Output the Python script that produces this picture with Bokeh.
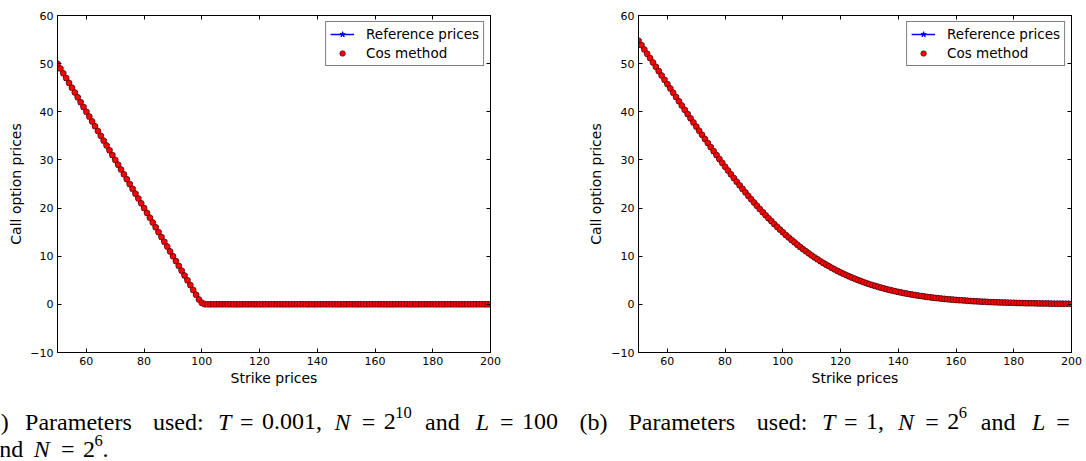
from bokeh.plotting import figure
from bokeh.models import Range1d, FixedTicker, LinearAxis, Legend, LegendItem
from bokeh.layouts import column, row
from bokeh.embed import file_html
from bokeh.resources import INLINE
from bokeh.core.properties import value

# ---------------- data ----------------
strikes = [
    50, 51, 52, 53, 54, 55, 56, 57, 58, 59, 60, 61, 62, 63, 64, 65, 66, 67, 68, 69,
    70, 71, 72, 73, 74, 75, 76, 77, 78, 79, 80, 81, 82, 83, 84, 85, 86, 87, 88, 89,
    90, 91, 92, 93, 94, 95, 96, 97, 98, 99, 100, 101, 102, 103, 104, 105, 106, 107, 108, 109,
    110, 111, 112, 113, 114, 115, 116, 117, 118, 119, 120, 121, 122, 123, 124, 125, 126, 127, 128, 129,
    130, 131, 132, 133, 134, 135, 136, 137, 138, 139, 140, 141, 142, 143, 144, 145, 146, 147, 148, 149,
    150, 151, 152, 153, 154, 155, 156, 157, 158, 159, 160, 161, 162, 163, 164, 165, 166, 167, 168, 169,
    170, 171, 172, 173, 174, 175, 176, 177, 178, 179, 180, 181, 182, 183, 184, 185, 186, 187, 188, 189,
    190, 191, 192, 193, 194, 195, 196, 197, 198, 199, 200,
]

# panel (a): T = 0.001
ref_prices_a = [
    50, 49, 48, 47, 46, 45, 44, 43, 42, 41, 40, 39, 38, 37, 36, 35, 34, 33, 32, 31,
    30, 29, 28, 27, 26, 25, 24, 23, 22, 21, 20, 19, 18, 17, 16, 15, 14, 13, 12, 11,
    10, 9, 8, 7, 6, 5, 4, 3, 2, 1.01, 0.32, 0.04, 0, 0, 0, 0, 0, 0, 0, 0,
    0, 0, 0, 0, 0, 0, 0, 0, 0, 0, 0, 0, 0, 0, 0, 0, 0, 0, 0, 0,
    0, 0, 0, 0, 0, 0, 0, 0, 0, 0, 0, 0, 0, 0, 0, 0, 0, 0, 0, 0,
    0, 0, 0, 0, 0, 0, 0, 0, 0, 0, 0, 0, 0, 0, 0, 0, 0, 0, 0, 0,
    0, 0, 0, 0, 0, 0, 0, 0, 0, 0, 0, 0, 0, 0, 0, 0, 0, 0, 0, 0,
    0, 0, 0, 0, 0, 0, 0, 0, 0, 0, 0,
]
cos_prices_a = [
    50, 49, 48, 47, 46, 45, 44, 43, 42, 41, 40, 39, 38, 37, 36, 35, 34, 33, 32, 31,
    30, 29, 28, 27, 26, 25, 24, 23, 22, 21, 20, 19, 18, 17, 16, 15, 14, 13, 12, 11,
    10, 9, 8, 7, 6, 5, 4, 3, 2, 1.01, 0.32, 0.04, 0, 0, 0, 0, 0, 0, 0, 0,
    0, 0, 0, 0, 0, 0, 0, 0, 0, 0, 0, 0, 0, 0, 0, 0, 0, 0, 0, 0,
    0, 0, 0, 0, 0, 0, 0, 0, 0, 0, 0, 0, 0, 0, 0, 0, 0, 0, 0, 0,
    0, 0, 0, 0, 0, 0, 0, 0, 0, 0, 0, 0, 0, 0, 0, 0, 0, 0, 0, 0,
    0, 0, 0, 0, 0, 0, 0, 0, 0, 0, 0, 0, 0, 0, 0, 0, 0, 0, 0, 0,
    0, 0, 0, 0, 0, 0, 0, 0, 0, 0, 0,
]

# panel (b): T = 1
ref_prices_b = [
    54.76, 53.86, 52.96, 52.05, 51.15, 50.25, 49.35, 48.45, 47.55, 46.65,
    45.75, 44.86, 43.97, 43.08, 42.19, 41.30, 40.42, 39.55, 38.67, 37.80,
    36.92, 36.07, 35.22, 34.37, 33.52, 32.67, 31.83, 31.02, 30.20, 29.39,
    28.59, 27.80, 27.02, 26.25, 25.49, 24.74, 24.00, 23.28, 22.56, 21.86,
    21.16, 20.48, 19.82, 19.16, 18.52, 17.90, 17.29, 16.69, 16.11, 15.53,
    14.98, 14.43, 13.91, 13.39, 12.89, 12.40, 11.92, 11.46, 11.02, 10.58,
    10.16, 9.75, 9.36, 8.97, 8.60, 8.25, 7.91, 7.57, 7.24, 6.94,
    6.64, 6.35, 6.07, 5.81, 5.55, 5.30, 5.06, 4.83, 4.61, 4.40,
    4.20, 4.00, 3.82, 3.64, 3.46, 3.30, 3.14, 2.99, 2.85, 2.71,
    2.58, 2.45, 2.33, 2.22, 2.11, 2.01, 1.91, 1.81, 1.72, 1.63,
    1.55, 1.47, 1.39, 1.32, 1.25, 1.19, 1.13, 1.07, 1.02, 0.97,
    0.92, 0.87, 0.83, 0.78, 0.74, 0.70, 0.66, 0.63, 0.59, 0.56,
    0.53, 0.50, 0.47, 0.45, 0.42, 0.40, 0.38, 0.36, 0.34, 0.32,
    0.31, 0.29, 0.28, 0.26, 0.24, 0.23, 0.22, 0.21, 0.20, 0.19,
    0.18, 0.17, 0.16, 0.15, 0.14, 0.13, 0.12, 0.12, 0.11, 0.11,
    0.10,
]
cos_prices_b = [
    54.76, 53.86, 52.96, 52.05, 51.15, 50.25, 49.35, 48.45, 47.55, 46.65,
    45.75, 44.86, 43.97, 43.08, 42.19, 41.30, 40.42, 39.55, 38.67, 37.80,
    36.92, 36.07, 35.22, 34.37, 33.52, 32.67, 31.83, 31.02, 30.20, 29.39,
    28.59, 27.80, 27.02, 26.25, 25.49, 24.74, 24.00, 23.28, 22.56, 21.86,
    21.16, 20.48, 19.82, 19.16, 18.52, 17.90, 17.29, 16.69, 16.11, 15.53,
    14.98, 14.43, 13.91, 13.39, 12.89, 12.40, 11.92, 11.46, 11.02, 10.58,
    10.16, 9.75, 9.36, 8.97, 8.60, 8.25, 7.91, 7.57, 7.24, 6.94,
    6.64, 6.35, 6.07, 5.81, 5.55, 5.30, 5.06, 4.83, 4.61, 4.40,
    4.20, 4.00, 3.82, 3.64, 3.46, 3.30, 3.14, 2.99, 2.85, 2.71,
    2.58, 2.45, 2.33, 2.22, 2.11, 2.01, 1.91, 1.81, 1.72, 1.63,
    1.55, 1.47, 1.39, 1.32, 1.25, 1.19, 1.13, 1.07, 1.02, 0.97,
    0.92, 0.87, 0.83, 0.78, 0.74, 0.70, 0.66, 0.63, 0.59, 0.56,
    0.53, 0.50, 0.47, 0.45, 0.42, 0.40, 0.38, 0.36, 0.34, 0.32,
    0.31, 0.29, 0.28, 0.26, 0.24, 0.23, 0.22, 0.21, 0.20, 0.19,
    0.18, 0.17, 0.16, 0.15, 0.14, 0.13, 0.12, 0.12, 0.11, 0.11,
    0.10,
]

x_ticks = [60, 80, 100, 120, 140, 160, 180, 200]
y_ticks = [-10, 0, 10, 20, 30, 40, 50, 60]
x_label = "Strike prices"
y_label = "Call option prices"
legend_labels = ["Reference prices", "Cos method"]

# caption pieces: (text, page-x, style, kind)
caption_a1 = [
    ("(a)", -18.4, "normal", "t"), ("Parameters", 24.6, "normal", "t"),
    ("used:", 152.5, "normal", "t"), ("T", 217.4, "italic", "t"),
    ("=", 246.2, "normal", "eq"), ("0.001,", 261.5, "normal", "t"),
    ("N", 334.0, "italic", "t"), ("=", 367.9, "normal", "eq"),
    ("2", 383.2, "normal", "t"), ("10", 394.7, "normal", "sup"),
    ("and", 424.5, "normal", "t"), ("L", 475.2, "italic", "t"),
    ("=", 506.3, "normal", "eq"), ("100", 521.6, "normal", "t"),
]
caption_a2 = [
    ("and", -12.0, "normal", "t"), ("N", 33.3, "italic", "t"),
    ("=", 67.2, "normal", "eq"), ("2", 82.5, "normal", "t"),
    ("6", 94.0, "normal", "sup"), (".", 102.1, "normal", "t"),
]
caption_b1 = [
    ("(b)", 579.0, "normal", "t"), ("Parameters", 628.0, "normal", "t"),
    ("used:", 756.3, "normal", "t"), ("T", 821.5, "italic", "t"),
    ("=", 850.3, "normal", "eq"), ("1,", 865.6, "normal", "t"),
    ("N", 897.5, "italic", "t"), ("=", 931.4, "normal", "eq"),
    ("2", 946.7, "normal", "t"), ("6", 958.2, "normal", "sup"),
    ("and", 980.3, "normal", "t"), ("L", 1031.4, "italic", "t"),
    ("=", 1062.5, "normal", "eq"),
]

TICK_FONT = "DejaVu Sans"


def style_axis(ax, ticks, show_labels=True, standoff=4, overrides=None):
    ax.ticker = FixedTicker(ticks=ticks)
    ax.minor_tick_line_color = None
    ax.major_tick_in = 4
    ax.major_tick_out = 0
    ax.major_tick_line_color = "black"
    ax.major_tick_line_width = 1
    ax.axis_line_color = "black"
    ax.axis_line_width = 1
    if show_labels:
        ax.major_label_text_font = TICK_FONT
        ax.major_label_text_font_size = "11px"
        ax.major_label_text_color = "black"
        ax.major_label_standoff = standoff
        if overrides:
            ax.major_label_overrides = overrides
    else:
        ax.major_label_text_font_size = "0px"
        ax.major_label_text_color = None
        ax.major_label_standoff = 0


def make_panel(ref, cos, left_border, right_border, ylabel_standoff):
    p = figure(width=543, height=388,
               x_range=Range1d(50, 200), y_range=Range1d(-10, 60),
               output_backend="svg", toolbar_location=None,
               min_border_left=left_border, min_border_right=right_border,
               min_border_top=15, min_border_bottom=34)
    p.grid.visible = False
    p.outline_line_color = "black"
    p.outline_line_width = 1
    p.background_fill_color = "white"
    p.border_fill_color = "white"

    style_axis(p.xaxis[0], x_ticks)
    style_axis(p.yaxis[0], y_ticks, overrides={-10: "\u221210"})
    p.xaxis[0].axis_label = x_label
    p.yaxis[0].axis_label = y_label
    for ax, st in ((p.xaxis[0], 2), (p.yaxis[0], ylabel_standoff)):
        ax.axis_label_text_font = TICK_FONT
        ax.axis_label_text_font_size = "14px"
        ax.axis_label_text_font_style = "normal"
        ax.axis_label_text_color = "black"
        ax.axis_label_standoff = st

    top = LinearAxis()
    style_axis(top, x_ticks, show_labels=False)
    p.add_layout(top, "above")
    right = LinearAxis()
    style_axis(right, y_ticks, show_labels=False)
    p.add_layout(right, "right")

    r_line = p.line(strikes, ref, line_color="blue", line_width=1.5)
    r_star = p.scatter(strikes, ref, marker="star", size=6,
                       fill_color="blue", line_color="blue")
    r_cos = p.scatter(strikes, cos, marker="circle", size=6,
                      fill_color="red", line_color="black", line_width=0.5)

    legend = Legend(items=[
        LegendItem(label=legend_labels[0], renderers=[r_line, r_star]),
        LegendItem(label=legend_labels[1], renderers=[r_cos]),
    ], location="top_right")
    legend.margin = 6
    legend.padding = 4
    legend.spacing = 3
    legend.glyph_width = 24
    legend.glyph_height = 14
    legend.label_height = 14
    legend.label_standoff = 12
    legend.label_text_font = TICK_FONT
    legend.label_text_font_size = "13.5px"
    legend.label_text_color = "black"
    legend.border_line_color = "black"
    legend.border_line_width = 1
    legend.background_fill_color = "white"
    legend.background_fill_alpha = 1.0
    p.add_layout(legend)
    return p


p1 = make_panel(ref_prices_a, cos_prices_a, 57, 53, 3)
p2 = make_panel(ref_prices_b, cos_prices_b, 95, 15, 4)

# caption strip (local coords: page x, page y - 388)
cap = figure(width=1086, height=73, x_range=Range1d(0, 1086), y_range=Range1d(73, 0),
             x_axis_location=None, y_axis_location=None, toolbar_location=None,
             output_backend="svg", min_border=0)
cap.grid.visible = False
cap.outline_line_color = None

SERIF = "Liberation Serif"
CAP_SIZE = "24px"
SUP_SIZE = "16.5px"


def add_line(pieces, base_y):
    for text, px, style, kind in pieces:
        if kind == "sup":
            cap.text(x=[px], y=[base_y - 9], text=[text], text_font=value(SERIF),
                     text_font_size=SUP_SIZE, text_font_style=style,
                     text_baseline="alphabetic", text_align="left", text_color="black")
        elif kind == "eq":
            cap.text(x=[px], y=[base_y], text=[text], text_font=value(SERIF),
                     text_font_size=CAP_SIZE, text_font_style=style,
                     text_baseline="alphabetic", text_align="center", text_color="black")
        else:
            cap.text(x=[px], y=[base_y], text=[text], text_font=value(SERIF),
                     text_font_size=CAP_SIZE, text_font_style=style,
                     text_baseline="alphabetic", text_align="left", text_color="black")


add_line(caption_a1, 33)
add_line(caption_a2, 60.5)
add_line(caption_b1, 33)

layout = column(row(p1, p2), cap)

open("out.html", "w").write(file_html(layout, INLINE))
